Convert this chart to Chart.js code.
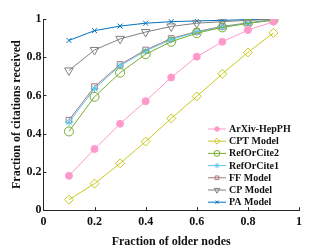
<!DOCTYPE html>
<html>
<head>
<meta charset="utf-8">
<script src="https://cdn.jsdelivr.net/npm/chart.js@4.4.1/dist/chart.umd.min.js"></script>
<style>
  html, body { margin: 0; padding: 0; background: #fff; }
  #wrap { width: 332px; height: 249px; }
</style>
</head>
<body>
<div id="wrap"><canvas id="myChart"></canvas></div>
<script>
// fraction of older nodes
var olderNodes = [0.1, 0.2, 0.3, 0.4, 0.5, 0.6, 0.7, 0.8, 0.9];

var arxivHepPH = [0.180, 0.320, 0.452, 0.570, 0.694, 0.803, 0.881, 0.942, 0.986];
var cptModel   = [0.055, 0.139, 0.245, 0.359, 0.480, 0.595, 0.713, 0.825, 0.927];
var refOrCite2 = [0.412, 0.593, 0.719, 0.816, 0.881, 0.926, 0.956, 0.977, 0.994];
var refOrCite1 = [0.460, 0.636, 0.756, 0.833, 0.893, 0.932, 0.958, 0.978, 0.995];
var ffModel    = [0.471, 0.646, 0.762, 0.838, 0.898, 0.935, 0.961, 0.980, 0.996];
var cpModel    = [0.731, 0.838, 0.896, 0.932, 0.961, 0.978, 0.986, 0.993, 0.998];
var paModel    = [0.888, 0.939, 0.963, 0.978, 0.986, 0.990, 0.993, 0.997, 0.999];

var tickValues = [0, 0.2, 0.4, 0.6, 0.8, 1];

var serif = 'Liberation Serif';
var axisColor = '#262626';

function pts(ys) {
    return ys.map(function (y, i) { return { x: olderNodes[i], y: y }; });
}

function series(label, ys, color, style, filled, radius, rotation) {
    return {
        label: label,
        data: pts(ys),
        borderColor: color,
        backgroundColor: filled ? color : 'rgba(0,0,0,0)',
        pointBorderColor: color,
        pointBackgroundColor: filled ? color : 'rgba(0,0,0,0)',
        pointStyle: style,
        pointRadius: radius,
        pointRotation: rotation || 0,
        pointBorderWidth: 1,
        borderWidth: 1,
        fill: false,
        tension: 0
    };
}

var datasets = [
    series('ArXiv-HepPH', arxivHepPH, '#ff99cc', 'circle', true, 3.5),
    series('CPT Model', cptModel, '#c8c81e', 'rectRot', false, 4.5),
    series('RefOrCite2', refOrCite2, '#77ac30', 'circle', false, 4.5),
    series('RefOrCite1', refOrCite1, '#5bc8f0', 'star', false, 4),
    series('FF Model', ffModel, '#a87878', 'rect', false, 4),
    series('CP Model', cpModel, '#808080', 'triangle', false, 5, 180),
    series('PA Model', paModel, '#0072bd', 'crossRot', false, 3.5)
];

// inward tick marks on left and bottom axes
var innerTicks = {
    id: 'innerTicks',
    afterDraw: function (chart) {
        var c = chart.ctx, a = chart.chartArea;
        var xs = chart.scales.x, ys = chart.scales.y;
        c.save();
        c.strokeStyle = axisColor;
        c.lineWidth = 1;
        c.beginPath();
        tickValues.forEach(function (v) {
            var px = Math.round(xs.getPixelForValue(v)) + 0.5;
            c.moveTo(px, a.bottom);
            c.lineTo(px, a.bottom - 3);
            var py = Math.round(ys.getPixelForValue(v)) + 0.5;
            c.moveTo(a.left, py);
            c.lineTo(a.left + 3, py);
        });
        c.stroke();
        c.restore();
    }
};

// legend drawn inside the plot, bottom right
var innerLegend = {
    id: 'innerLegend',
    afterDraw: function (chart) {
        var c = chart.ctx;
        var x0 = 208, x1 = 226, tx = 229, y0 = 129, step = 12.2;
        c.save();
        c.font = 'bold 10px "' + serif + '"';
        c.textBaseline = 'middle';
        chart.data.datasets.forEach(function (ds, i) {
            var y = y0 + i * step;
            c.strokeStyle = ds.borderColor;
            c.lineWidth = 1;
            c.beginPath();
            c.moveTo(x0, y);
            c.lineTo(x1, y);
            c.stroke();
            c.fillStyle = ds.pointBackgroundColor;
            c.strokeStyle = ds.pointBorderColor;
            Chart.helpers.drawPoint(c, {
                pointStyle: ds.pointStyle,
                rotation: ds.pointRotation,
                radius: ds.pointRadius * 0.65,
                borderWidth: 1
            }, (x0 + x1) / 2, y);
            c.fillStyle = '#111';
            c.fillText(ds.label, tx, y + 0.5);
        });
        c.restore();
    }
};

var ctx = document.getElementById('myChart');

var myChart = new Chart(ctx, {
    type: 'line',
    data: { datasets: datasets },
    options: {
        responsive: true,
        maintainAspectRatio: false,
        animation: false,
        layout: { padding: { top: 19, right: 33, left: 10, bottom: 0 } },
        plugins: {
            legend: { display: false },
            tooltip: { enabled: false }
        },
        scales: {
            x: {
                type: 'linear',
                min: 0,
                max: 1,
                grid: { display: false, drawTicks: false },
                border: { display: true, color: axisColor, width: 1 },
                afterBuildTicks: function (s) { s.ticks = tickValues.map(function (v) { return { value: v }; }); },
                ticks: {
                    color: '#111',
                    padding: 5,
                    font: { family: serif, size: 12, weight: 'bold' },
                    callback: function (v) { return String(v); }
                },
                title: {
                    display: true,
                    text: 'Fraction of older nodes',
                    color: '#111',
                    padding: { top: 0, bottom: 0 },
                    font: { family: serif, size: 12, weight: 'bold' }
                }
            },
            y: {
                type: 'linear',
                min: 0,
                max: 1,
                grid: { display: false, drawTicks: false },
                border: { display: true, color: axisColor, width: 1 },
                afterBuildTicks: function (s) { s.ticks = tickValues.map(function (v) { return { value: v }; }); },
                ticks: {
                    color: '#111',
                    padding: 2,
                    font: { family: serif, size: 12, weight: 'bold' },
                    callback: function (v) { return String(v); }
                },
                title: {
                    display: true,
                    text: 'Fraction of citations received',
                    color: '#111',
                    padding: { top: 0, bottom: 0 },
                    font: { family: serif, size: 12, weight: 'bold' }
                }
            }
        }
    },
    plugins: [innerTicks, innerLegend]
});
</script>
</body>
</html>
